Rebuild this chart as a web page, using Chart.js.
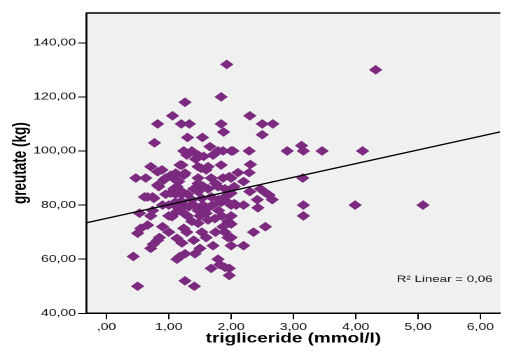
<!DOCTYPE html>
<html>
<head>
<meta charset="utf-8">
<script src="https://cdn.jsdelivr.net/npm/chart.js@4.4.1/dist/chart.umd.min.js"></script>
<style>
  html, body { margin: 0; padding: 0; background: #ffffff; }
</style>
</head>
<body>
<!-- the drawing surface is laid out narrower and shown widened, like the SPSS export -->
<canvas id="chart" width="362" height="354" style="display:block;width:507px;height:354px"></canvas>
<script>
// triglyceride (mmol/l) per subject
const triglyceride = [
  1.93, 4.32, 1.26, 1.84, 2.30, 1.06, 0.82, 1.20, 1.33, 1.84,
  1.88, 2.50, 2.67, 2.50, 1.30, 1.54, 0.77, 2.90, 2.00, 2.29,
  3.13, 3.16, 3.46, 4.11, 2.31, 2.11, 2.29, 2.00, 2.20, 3.15,
  2.47, 2.55, 2.61, 2.66, 2.42, 2.43, 2.08, 2.00, 3.16, 3.99,
  5.08, 3.16, 2.36, 2.55, 2.00, 2.20, 2.00, 1.97, 1.97, 0.50,
  1.26, 1.41, 0.43, 0.71, 0.82, 0.75, 1.13, 1.21, 1.18, 1.26,
  1.13, 1.42, 1.50, 1.71, 1.29, 1.53, 1.79, 1.90, 1.68, 1.82,
  1.95, 0.53, 0.71, 0.55, 0.50, 0.66, 0.74, 1.05, 1.13, 1.24,
  1.37, 1.47, 1.63, 1.74, 1.87, 1.95, 2.00, 1.63, 1.47, 1.32,
  1.37, 1.53, 1.68, 1.84, 2.05, 1.47, 1.63, 1.79, 2.00, 2.05,
  1.24, 0.61, 0.74, 1.03, 1.13, 1.21, 0.82, 0.92, 1.03, 1.11,
  1.26, 1.47, 1.68, 1.87, 1.97, 0.47, 0.63, 0.82, 0.71, 0.89,
  1.18, 1.47, 1.63, 1.84, 1.24, 1.37, 1.29, 1.47, 1.66, 1.71,
  1.87, 2.03, 1.79, 1.11, 1.24, 1.56, 1.43, 1.21, 1.52, 1.60,
  0.95, 1.08, 1.16, 0.84, 1.08, 1.47, 0.66, 0.76, 1.11, 1.21,
  1.00, 1.10, 1.20, 1.30, 1.40, 1.55, 1.75, 1.90, 1.90, 1.95,
  1.80, 1.70, 1.55, 1.40, 1.25, 1.15, 1.00, 0.90, 0.95, 1.50,
  1.60, 1.85, 2.00, 1.90, 1.75, 1.60, 1.40, 1.00, 0.90, 1.30,
  1.80, 2.30, 2.20, 0.85
];

// greutate (kg) per subject, same order
const weight = [
  132, 130, 118, 120, 113, 113, 110, 110, 110, 110,
  107, 110, 110, 106, 105, 105, 103, 100, 100, 100,
  102, 100, 100, 100, 95, 92, 92, 90, 88.7, 90,
  86, 84.6, 83.7, 82, 82, 79, 80, 80, 80, 80,
  80, 76, 70, 72, 68, 65, 65, 56.6, 54, 50,
  52, 50, 61, 64, 67, 65.5, 67.7, 66, 61, 62,
  60, 62, 64, 65, 70, 70, 60, 57, 56.6, 58,
  68, 77, 76, 71.4, 69.6, 72.6, 78, 75.7, 77.6, 77,
  74, 73.3, 74.5, 75, 72, 74, 76, 79, 78, 79.4,
  82, 82.5, 83, 81, 80.5, 85, 86, 86.8, 84.4, 86.8,
  71.4, 83, 83, 84.4, 86.8, 85, 87.4, 89.3, 91, 89.3,
  91.8, 90, 90, 90, 90.5, 90, 90, 92.3, 94.2, 93,
  94.8, 94.2, 94.2, 94.8, 100, 100, 98.5, 98.5, 101.6, 98.5,
  100, 100, 100, 91.8, 91, 98, 97, 94.8, 93.6, 93,
  90, 91, 88.7, 86.8, 86, 88, 83, 82.5, 84, 84,
  80, 81, 81.5, 84, 86, 87, 88, 86, 83, 81,
  78, 80, 80, 80, 80, 79, 76, 80, 84, 76,
  77, 76, 73, 70, 70, 68, 67, 70, 72, 76,
  82, 85, 80, 68
];

// axis ticks and their printed labels
const xTickValues = [0, 1, 2, 3, 4, 5, 6];
const xTickLabels = [',00', '1,00', '2,00', '3,00', '4,00', '5,00', '6,00'];
const yTickValues = [40, 60, 80, 100, 120, 140];
const yTickLabels = ['40,00', '60,00', '80,00', '100,00', '120,00', '140,00'];

// fitted linear trend and its summary
const fitIntercept = 75.1;
const fitSlope = 5.06;
const fitLabel = 'R\u00B2 Linear = 0,06';

const X_MIN = -0.32, X_MAX = 6.32;
const Y_MIN = 40, Y_MAX = 151;

const FONT = "'Liberation Sans', Arial, sans-serif";
const MARKER = '#7b2a7f';

const points = triglyceride.map((t, i) => ({ x: t, y: weight[i] }));
const fitLine = [X_MIN, X_MAX].map(x => ({ x: x, y: fitIntercept + fitSlope * x }));

const framePlugin = {
  id: 'frame',
  beforeDraw(chart) {
    const { ctx, chartArea: a } = chart;
    ctx.save();
    ctx.fillStyle = '#ffffff';
    ctx.fillRect(0, 0, chart.width, chart.height);
    ctx.fillStyle = '#f0f0f0';
    ctx.fillRect(a.left, a.top, a.right - a.left, a.bottom - a.top);
    ctx.restore();
  },
  afterDraw(chart) {
    const { ctx, chartArea: a } = chart;
    ctx.save();
    ctx.strokeStyle = '#000000';
    ctx.lineWidth = 1.5;
    ctx.beginPath();
    ctx.moveTo(a.left, a.top);
    ctx.lineTo(a.right, a.top);
    ctx.stroke();
    ctx.fillStyle = '#111111';
    ctx.font = '9.5px ' + FONT;
    ctx.textAlign = 'right';
    ctx.textBaseline = 'middle';
    ctx.fillText(fitLabel, a.right - 5.5, a.bottom - 34);
    ctx.restore();
  }
};

new Chart(document.getElementById('chart'), {
  type: 'scatter',
  data: {
    datasets: [
      {
        type: 'line',
        data: fitLine,
        borderColor: '#000000',
        borderWidth: 1.3,
        pointRadius: 0,
        fill: false,
        order: 0
      },
      {
        data: points,
        pointStyle: 'rectRot',
        pointRadius: 4.8,
        pointBackgroundColor: MARKER,
        pointBorderWidth: 0,
        order: 1
      }
    ]
  },
  options: {
    responsive: false,
    devicePixelRatio: 2,
    animation: false,
    layout: { padding: { top: 13, right: 0, left: 0, bottom: 0 } },
    plugins: { legend: { display: false }, tooltip: { enabled: false } },
    scales: {
      x: {
        type: 'linear',
        min: X_MIN,
        max: X_MAX,
        afterBuildTicks: s => { s.ticks = xTickValues.map(v => ({ value: v })); },
        afterFit: s => { s.height = 40.7; },
        ticks: {
          autoSkip: false,
          maxRotation: 0,
          padding: 2,
          color: '#111111',
          font: { family: FONT, size: 10 },
          callback: (v, i) => xTickLabels[i]
        },
        grid: { drawOnChartArea: false, drawTicks: true, tickLength: 6, color: '#000000', lineWidth: 1 },
        border: { display: true, color: '#000000', width: 1.5 },
        title: {
          display: true,
          text: 'trigliceride (mmol/l)',
          color: '#000000',
          font: { family: FONT, size: 13.5, weight: 'bold' },
          padding: { top: 0, bottom: 6.9 }
        }
      },
      y: {
        type: 'linear',
        min: Y_MIN,
        max: Y_MAX,
        afterBuildTicks: s => { s.ticks = yTickValues.map(v => ({ value: v })); },
        afterFit: s => { s.width = 61.8; },
        ticks: {
          autoSkip: false,
          padding: 1.5,
          color: '#111111',
          font: { family: FONT, size: 10 },
          callback: (v, i) => yTickLabels[i]
        },
        grid: { drawOnChartArea: false, drawTicks: true, tickLength: 6, color: '#000000', lineWidth: 1 },
        border: { display: true, color: '#000000', width: 1.4 },
        title: {
          display: true,
          text: 'greutate (kg)',
          color: '#000000',
          font: { family: FONT, size: 13.5, weight: 'bold' },
          padding: { top: 6.5, bottom: 0 }
        }
      }
    }
  },
  plugins: [framePlugin]
});
</script>
</body>
</html>
